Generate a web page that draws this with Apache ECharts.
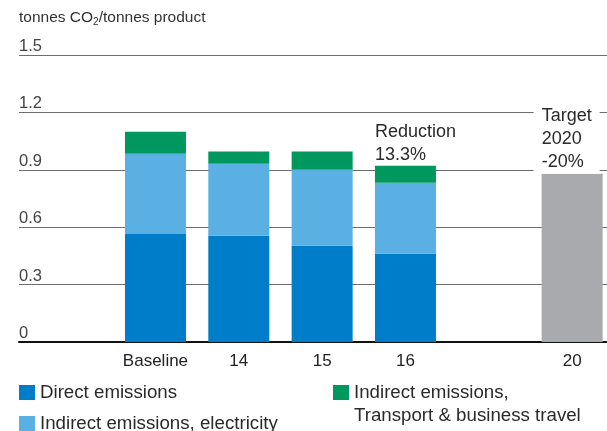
<!DOCTYPE html>
<html>
<head>
<meta charset="utf-8">
<script src="https://cdn.jsdelivr.net/npm/echarts@6/dist/echarts.min.js"></script>
<style>
html,body{margin:0;padding:0;background:#fff;}
#chart{width:607px;height:431px;}
</style>
</head>
<body>
<div id="chart"></div>
<script>
var categories = ['Baseline', '14', '15', '16', '', '20'];
var directEmissions = [0.565, 0.555, 0.503, 0.461, '-', '-'];
var electricity = [0.419, 0.377, 0.397, 0.371, '-', '-'];
var transport = [0.115, 0.063, 0.095, 0.089, '-', '-'];
var target = ['-', '-', '-', '-', '-', 0.88];
var yTicks = { min: 0, max: 1.5, interval: 0.3 };

var chart = echarts.init(document.getElementById('chart'));
var font = 'Liberation Sans';

var transportData = transport.map(function (v, i) {
    if (i === 3) {
        return {
            value: v,
            label: {
                show: true, position: [0, 1], align: 'left', verticalAlign: 'bottom',
                formatter: 'Reduction\n13.3%', fontSize: 18, lineHeight: 23, color: '#2a2a2a', fontFamily: font
            }
        };
    }
    return v;
});
var targetData = target.map(function (v, i) {
    if (i === 5) {
        return {
            value: v,
            label: {
                show: true, position: [-8, 0], align: 'left', verticalAlign: 'bottom',
                formatter: 'Target\n2020\n-20%', fontSize: 18, lineHeight: 23, color: '#2a2a2a', fontFamily: font,
                backgroundColor: '#fff', padding: [0, 8, 0, 8]
            }
        };
    }
    return v;
});

var legendText = { fontSize: 18.7, color: '#2a2a2a', fontFamily: font };

var option = {
    animation: false,
    textStyle: { fontFamily: font },
    title: [{
        text: 'tonnes CO{sub|2}/tonnes product',
        left: 19, top: 8, padding: 0,
        textStyle: {
            fontSize: 15.5, fontWeight: 'normal', color: '#333', fontFamily: font,
            rich: { sub: { fontSize: 10, verticalAlign: 'bottom', padding: [9, 0, 0, 0], color: '#333', fontFamily: font } }
        }
    }, {
        text: 'Transport & business travel',
        left: 354, top: 406, padding: 0,
        textStyle: { fontSize: 18.7, fontWeight: 'normal', color: '#2a2a2a', fontFamily: font }
    }],
    legend: [{
        data: ['Direct emissions'],
        left: 19, top: 383, padding: 0, itemWidth: 16, itemHeight: 15,
        icon: 'rect', selectedMode: false, textStyle: legendText
    }, {
        data: ['Indirect emissions, electricity'],
        left: 19, top: 414, padding: 0, itemWidth: 16, itemHeight: 15,
        icon: 'rect', selectedMode: false, textStyle: legendText
    }, {
        data: ['Indirect emissions, Transport & business travel'],
        left: 333, top: 383, padding: 0, itemWidth: 16, itemHeight: 15,
        icon: 'rect', selectedMode: false, textStyle: legendText,
        formatter: function () { return 'Indirect emissions,'; }
    }],
    grid: [
        { left: 19, right: 0, top: 55, bottom: 89 },
        { left: 113.8, width: 500, top: 55, bottom: 89, outerBoundsMode: 'none' }
    ],
    xAxis: [{
        gridIndex: 0, type: 'category', data: [''],
        axisLine: { show: true, lineStyle: { color: '#111', width: 2 } },
        axisTick: { show: false }, axisLabel: { show: false }
    }, {
        gridIndex: 1, type: 'category', data: categories,
        axisLine: { show: false }, axisTick: { show: false },
        axisLabel: { interval: 0, fontSize: 17, color: '#222', margin: 11, fontFamily: font }
    }],
    yAxis: [{
        gridIndex: 0, type: 'value', min: yTicks.min, max: yTicks.max, interval: yTicks.interval,
        axisLine: { show: false }, axisTick: { show: false },
        splitLine: { lineStyle: { color: '#6d6d6d', width: 1 } },
        axisLabel: {
            inside: true, margin: 0, verticalAlign: 'bottom', padding: 0,
            fontSize: 16.5, color: '#444', fontFamily: font
        }
    }, {
        gridIndex: 1, type: 'value', min: yTicks.min, max: yTicks.max, interval: yTicks.interval,
        show: false
    }],
    series: [{
        name: 'Direct emissions', type: 'bar', stack: 'co2', xAxisIndex: 1, yAxisIndex: 1,
        barWidth: 61, itemStyle: { color: '#007dc8' }, data: directEmissions
    }, {
        name: 'Indirect emissions, electricity', type: 'bar', stack: 'co2', xAxisIndex: 1, yAxisIndex: 1,
        barWidth: 61, itemStyle: { color: '#5ab0e3' }, data: electricity
    }, {
        name: 'Indirect emissions, Transport & business travel', type: 'bar', stack: 'co2', xAxisIndex: 1, yAxisIndex: 1,
        barWidth: 61, itemStyle: { color: '#00985f' }, data: transportData
    }, {
        name: 'Target', type: 'bar', stack: 'co2', xAxisIndex: 1, yAxisIndex: 1,
        barWidth: 61, itemStyle: { color: '#a8aaad' }, data: targetData
    }]
};

chart.setOption(option);
window.onresize = chart.resize;
</script>
</body>
</html>
